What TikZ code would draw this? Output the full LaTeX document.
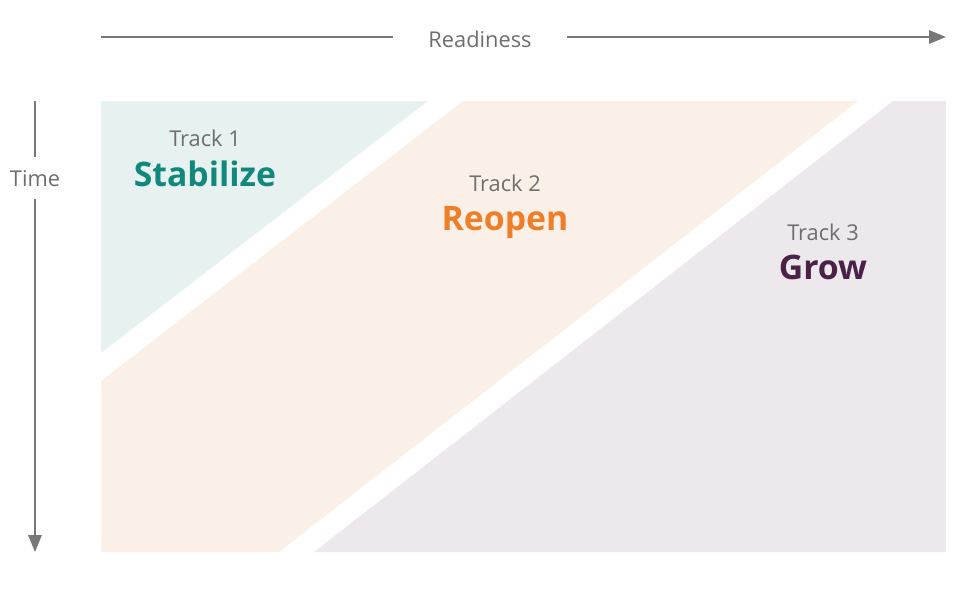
\documentclass[tikz,border=0pt]{standalone}
\usepackage{fontspec}
\setmainfont{Open Sans}
\usepackage{tikz}
\usetikzlibrary{arrows.meta, positioning}
\definecolor{axisgray}{RGB}{120,120,120}
\definecolor{labelgray}{RGB}{110,110,110}
\definecolor{tealtxt}{RGB}{18,136,124}
\definecolor{orangetxt}{RGB}{238,126,40}
\definecolor{purpletxt}{RGB}{74,34,72}
\definecolor{tealfill}{RGB}{230,241,240}
\definecolor{orangefill}{RGB}{250,240,231}
\definecolor{purplefill}{RGB}{237,232,236}
\tikzset{
  axisline/.style={line width=1.3pt, color=axisgray},
  axisarrow/.style={axisline, -{Triangle[length=12pt, width=9.5pt]}},
  axislabel/.style={font=\fontsize{15.5}{18}\selectfont, text=labelgray, inner sep=0pt},
  tracklabel/.style={font=\fontsize{15.5}{18}\selectfont, text=labelgray, inner sep=0pt},
  trackname/.style={font=\fontsize{24}{28}\selectfont\bfseries, inner sep=0pt}
}

\begin{document}
\begin{tikzpicture}[x=0.025cm, y=-0.025cm]
  \useasboundingbox (0,0) rectangle (975,592);

  % Track bands
  \fill[tealfill] (101,101) -- (428,101) -- (101,353) -- cycle;
  \fill[orangefill] (463,101) -- (858,101) -- (279,552) -- (101,552) -- (101,381) -- cycle;
  \fill[purplefill] (893,101) -- (946,101) -- (946,552) -- (314,552) -- cycle;

  % Axes
  \node[axislabel] (readiness) at (480,39) {Readiness};
  \coordinate (rstart) at (101,37);
  \coordinate (rend) at (946,37);
  \draw[axisline] (rstart) -- ([xshift=-25pt]readiness.west |- rstart);
  \draw[axisarrow] ([xshift=25pt]readiness.east |- rstart) -- (rend);

  \node[axislabel] (time) at (35,179) {Time};
  \coordinate (tstart) at (35,101);
  \coordinate (tend) at (35,552);
  \draw[axisline] (tstart) -- ([yshift=10pt]time.north -| tstart);
  \draw[axisarrow] ([yshift=-8pt]time.south -| tstart) -- (tend);

  % Track labels
  \node[tracklabel] (track1) at (205,138) {Track 1};
  \node[trackname, text=tealtxt, below=10pt of track1] (stabilize) {Stabilize};
  \node[tracklabel] (track2) at (505,183) {Track 2};
  \node[trackname, text=orangetxt, below=10pt of track2] (reopen) {Reopen};
  \node[tracklabel] (track3) at (823,232) {Track 3};
  \node[trackname, text=purpletxt, below=10pt of track3] (grow) {Grow};
\end{tikzpicture}
\end{document}
